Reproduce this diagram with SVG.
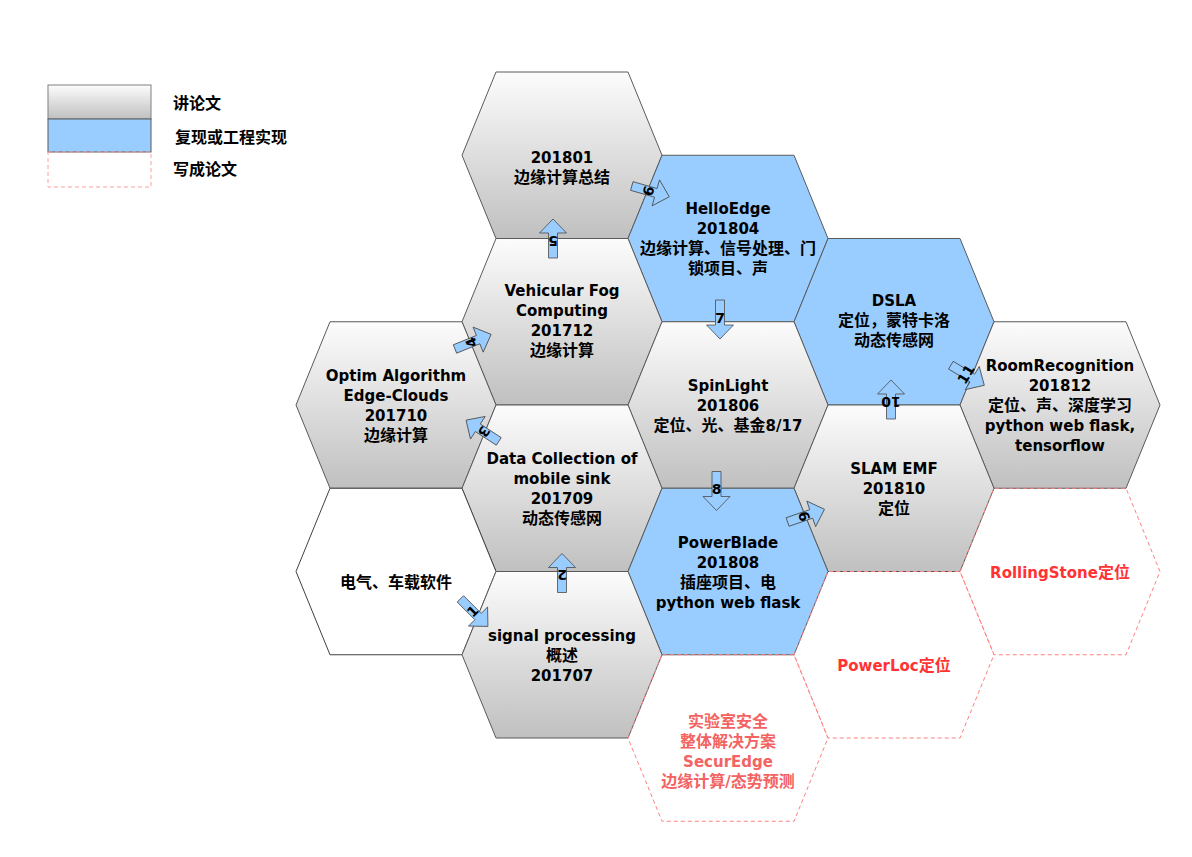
<svg xmlns="http://www.w3.org/2000/svg" xmlns:xlink="http://www.w3.org/1999/xlink" width="1192" height="857" viewBox="0 0 1192 857">
<style>
.g{fill:url(#gg);stroke:#5a5a5a;stroke-width:1}
.b{fill:#99ccff;stroke:#5a5a5a;stroke-width:1}
.w{fill:#ffffff;stroke:#404040;stroke-width:1}
.d{fill:none;stroke:#ff8080;stroke-width:1;stroke-dasharray:4 3}
.t{font-family:"DejaVu Sans","Noto Sans CJK SC",sans-serif;font-weight:bold;font-size:15px;text-anchor:middle;fill:#000}
.c{font-size:16px}
.r{fill:#ff3333}
.r2{fill:#f46262}
.lg{font-family:"DejaVu Sans","Noto Sans CJK SC",sans-serif;font-weight:bold;font-size:16px;fill:#000}
.arr{fill:#99ccff;stroke:#4a4a4a;stroke-width:0.8}
.an{font-family:"DejaVu Sans",sans-serif;font-weight:bold;font-size:14px;text-anchor:middle;fill:#000}
</style>
<defs>
<linearGradient id="gg" x1="0" y1="0" x2="0" y2="1">
<stop offset="0" stop-color="#fcfcfc"/>
<stop offset="1" stop-color="#c0c0c0"/>
</linearGradient>
<polygon id="hx" points="0,83.25 34,0 166,0 200,83.25 166,166.5 34,166.5"/>
<path id="ar" d="M-4.5,-20 H4.5 V5 H13.5 L0,19 L-13.5,5 H-4.5 Z"/>
</defs>
<rect width="1192" height="857" fill="#ffffff"/>

<g id="legend">
<rect x="48" y="85" width="103" height="34" class="g" style="stroke:#808080"/>
<rect x="48" y="119" width="103" height="33" class="b"/>
<rect x="48" y="152" width="103" height="35" fill="none" stroke="#ffa0a0" stroke-dasharray="4 3"/>
<text class="lg" x="173" y="108.5">讲论文</text>
<text class="lg" x="175" y="142.5">复现或工程实现</text>
<text class="lg" x="173" y="174.5">写成论文</text>
</g>

<g id="n201801">
<use xlink:href="#hx" x="462" y="72" class="g"/>
<text class="t"><tspan x="562" y="162.5">201801</tspan><tspan x="562" y="182.5" class="c">边缘计算总结</tspan></text>
</g>
<g id="nHelloEdge">
<use xlink:href="#hx" x="628" y="155.25" class="b"/>
<text class="t"><tspan x="728" y="213.5">HelloEdge</tspan><tspan x="728" y="233.5">201804</tspan><tspan x="728" y="253.5" class="c">边缘计算、信号处理、门</tspan><tspan x="728" y="273.5" class="c">锁项目、声</tspan></text>
</g>
<g id="nVehicular">
<use xlink:href="#hx" x="462" y="238.5" class="g"/>
<text class="t"><tspan x="562" y="295.5">Vehicular Fog</tspan><tspan x="562" y="315.5">Computing</tspan><tspan x="562" y="335.5">201712</tspan><tspan x="562" y="355.5" class="c">边缘计算</tspan></text>
</g>
<g id="nDSLA">
<use xlink:href="#hx" x="794" y="238.5" class="b"/>
<text class="t"><tspan x="894" y="305.5">DSLA</tspan><tspan x="894" y="325.5" class="c">定位，蒙特卡洛</tspan><tspan x="894" y="345.5" class="c">动态传感网</tspan></text>
</g>
<g id="nOptim">
<use xlink:href="#hx" x="296" y="321.75" class="g"/>
<text class="t"><tspan x="396" y="380.5">Optim Algorithm</tspan><tspan x="396" y="400.5">Edge-Clouds</tspan><tspan x="396" y="420.5">201710</tspan><tspan x="396" y="440.5" class="c">边缘计算</tspan></text>
</g>
<g id="nSpinLight">
<use xlink:href="#hx" x="628" y="321.75" class="g"/>
<text class="t"><tspan x="728" y="390.5">SpinLight</tspan><tspan x="728" y="410.5">201806</tspan><tspan x="728" y="430.5"><tspan class="c">定位、光、基金</tspan>8/17</tspan></text>
</g>
<g id="nRoomRecognition">
<use xlink:href="#hx" x="960" y="321.75" class="g"/>
<text class="t"><tspan x="1060" y="370.5">RoomRecognition</tspan><tspan x="1060" y="390.5">201812</tspan><tspan x="1060" y="410.5" class="c">定位、声、深度学习</tspan><tspan x="1060" y="430.5">python web flask,</tspan><tspan x="1060" y="450.5">tensorflow</tspan></text>
</g>
<g id="nDataCollection">
<use xlink:href="#hx" x="462" y="405" class="g"/>
<text class="t"><tspan x="562" y="463.5">Data Collection of</tspan><tspan x="562" y="483.5">mobile sink</tspan><tspan x="562" y="503.5">201709</tspan><tspan x="562" y="523.5" class="c">动态传感网</tspan></text>
</g>
<g id="nSLAM">
<use xlink:href="#hx" x="794" y="405" class="g"/>
<text class="t"><tspan x="894" y="473.5">SLAM EMF</tspan><tspan x="894" y="493.5">201810</tspan><tspan x="894" y="513.5" class="c">定位</tspan></text>
</g>
<g id="nElectric">
<use xlink:href="#hx" x="296" y="488.25" class="w"/>
<text class="t"><tspan x="396" y="587.5" class="c">电气、车载软件</tspan></text>
</g>
<g id="nPowerBlade">
<use xlink:href="#hx" x="628" y="488.25" class="b"/>
<text class="t"><tspan x="728" y="547.5">PowerBlade</tspan><tspan x="728" y="567.5">201808</tspan><tspan x="728" y="587.5" class="c">插座项目、电</tspan><tspan x="728" y="607.5">python web flask</tspan></text>
</g>
<g id="nSignal">
<use xlink:href="#hx" x="462" y="571.5" class="g"/>
<text class="t"><tspan x="562" y="640.5">signal processing</tspan><tspan x="562" y="660.5" class="c">概述</tspan><tspan x="562" y="680.5">201707</tspan></text>
</g>
<g id="nRollingStone">
<use xlink:href="#hx" x="960" y="488.25" class="d"/>
<text class="t r"><tspan x="1060" y="577.5">RollingStone<tspan class="c">定位</tspan></tspan></text>
</g>
<g id="nPowerLoc">
<use xlink:href="#hx" x="794" y="571.5" class="d"/>
<text class="t r"><tspan x="894" y="670.5">PowerLoc<tspan class="c">定位</tspan></tspan></text>
</g>
<g id="nSecurEdge">
<use xlink:href="#hx" x="628" y="654.75" class="d"/>
<text class="t r2"><tspan x="728" y="726.5" class="c">实验室安全</tspan><tspan x="728" y="746.5" class="c">整体解决方案</tspan><tspan x="728" y="766.5">SecurEdge</tspan><tspan x="728" y="786.5"><tspan class="c">边缘计算</tspan>/<tspan class="c">态势预测</tspan></tspan></text>
</g>

<g id="connectors">
<g transform="translate(474.5,613) rotate(-45)"><use xlink:href="#ar" class="arr"/><text class="an" x="0" y="2.5">1</text></g>
<g transform="translate(562,572.5) rotate(180)"><use xlink:href="#ar" class="arr"/><text class="an" x="0" y="2.5">2</text></g>
<g transform="translate(482,430.5) rotate(123)"><use xlink:href="#ar" class="arr"/><text class="an" x="0" y="2.5">3</text></g>
<g transform="translate(473.5,341.5) rotate(-112)"><use xlink:href="#ar" class="arr"/><text class="an" x="0" y="2.5">4</text></g>
<g transform="translate(553,238) rotate(180)"><use xlink:href="#ar" class="arr"/><text class="an" x="0" y="2.5">5</text></g>
<g transform="translate(651,191.5) rotate(-74)"><use xlink:href="#ar" class="arr"/><text class="an" x="0" y="2.5">6</text></g>
<g transform="translate(720,320)"><use xlink:href="#ar" class="arr"/><text class="an" x="0" y="2.5">7</text></g>
<g transform="translate(716.5,491.5)"><use xlink:href="#ar" class="arr"/><text class="an" x="0" y="2.5">8</text></g>
<g transform="translate(806.5,515.5) rotate(-109)"><use xlink:href="#ar" class="arr"/><text class="an" x="0" y="2.5">9</text></g>
<g transform="translate(891,399) rotate(180)"><use xlink:href="#ar" class="arr"/><text class="an" x="0" y="2.5">10</text></g>
<g transform="translate(968,375.5) rotate(-59)"><use xlink:href="#ar" class="arr"/><text class="an" x="0" y="2.5">11</text></g>
</g>
</svg>
